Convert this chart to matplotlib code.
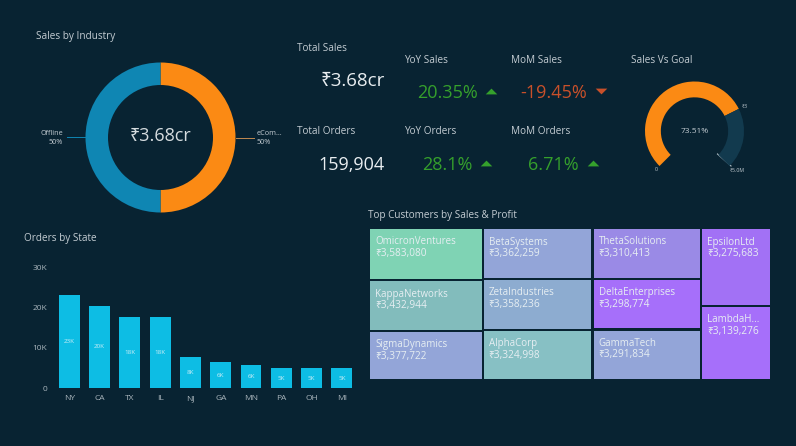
import matplotlib
matplotlib.use("Agg")
import matplotlib.pyplot as plt
from matplotlib.patches import Rectangle

W, H = 796, 446
BG = "#082332"
plt.rcParams["font.family"] = ["Open Sans", "Noto Sans", "DejaVu Sans"]

# Sales by Industry
industries = ["Offline", "eCom..."]
industry_share = [50, 50]
industry_colors = ["#0f86b3", "#fb8a14"]

# Sales vs goal gauge
goal_pct = 73.51

# Orders by state
states = ["NY", "CA", "TX", "IL", "NJ", "GA", "MN", "PA", "OH", "MI"]
orders = [23100, 20500, 17700, 17600, 7700, 6400, 5700, 5000, 5000, 4900]
order_labels = ["23K", "20K", "18K", "18K", "8K", "6K", "6K", "5K", "5K", "5K"]

# Treemap, one list per column
tree_names = [
    ["OmicronVentures", "KappaNetworks", "SigmaDynamics"],
    ["BetaSystems", "ZetaIndustries", "AlphaCorp"],
    ["ThetaSolutions", "DeltaEnterprises", "GammaTech"],
    ["EpsilonLtd", "LambdaH..."],
]
tree_sales = [
    [3583080, 3432944, 3377722],
    [3362259, 3358236, 3324998],
    [3310413, 3298774, 3291834],
    [3275683, 3139276],
]
tree_colors = [
    ["#7fd3b4", "#82bcbc", "#93a5d8"],
    ["#93a5d8", "#8dacd0", "#87c0c4"],
    ["#9a8ae6", "#a66ffa", "#93a5d8"],
    ["#a271f5", "#a66ffa"],
]

UP = [(-1, -0.5), (1, -0.5), (0, 0.5), (-1, -0.5)]
DOWN = [(-1, 0.5), (1, 0.5), (0, -0.5), (-1, 0.5)]
kpis = [
    ("YoY Sales", 404, 59, "20.35%", 417, 92, "#35a02c", UP, 491, 91),
    ("MoM Sales", 511, 59, "-19.45%", 520, 92, "#c8502a", DOWN, 601, 91),
    ("YoY Orders", 404, 130, "28.1%", 422, 163, "#35a02c", UP, 486, 163),
    ("MoM Orders", 511, 130, "6.71%", 528, 163, "#35a02c", UP, 592.5, 163),
]


def px_axes(fig, x0, y0, x1, y1):
    # pixel box with y measured from the top of the image
    return fig.add_axes([x0 / W, 1 - y1 / H, (x1 - x0) / W, (y1 - y0) / H])


fig = plt.figure(figsize=(W / 100, H / 100), dpi=100, facecolor=BG)
bg = fig.add_axes([0, 0, 1, 1])
bg.set_xlim(0, W)
bg.set_ylim(H, 0)
bg.axis("off")


def label(x, y, s, size=7.2, color="#c3ccd2", **kw):
    kw.setdefault("va", "center")
    bg.text(x, y + 1.5, s, fontsize=size, color=color, **kw)


label(36, 35, "Sales by Industry")
label(297, 47, "Total Sales")
label(297, 130, "Total Orders")
label(631, 59, "Sales Vs Goal")
label(24, 237, "Orders by State")
label(368, 214, "Top Customers by Sales & Profit")

# donut
ax = px_axes(fig, 85.5, 62.5, 235.5, 212.5)
ax.pie(industry_share[::-1], colors=industry_colors[::-1], startangle=90, counterclock=False,
       radius=1, wedgeprops=dict(width=0.3), center=(0, 0))
ax.set_xlim(-1, 1)
ax.set_ylim(-1, 1)
ax.text(0, 0.02, "₹3.68cr", color="#d5dcdf", fontsize=13, ha="center", va="center")
bg.plot([67, 85], [137, 137], color=industry_colors[0], lw=0.7)
bg.plot([236, 254], [138, 138], color="#c08a50", lw=0.7)
label(63, 132, industries[0], size=5.2, ha="right")
label(63, 141, "50%", size=5.2, ha="right")
label(257, 132, industries[1], size=5.2)
label(257, 141, "50%", size=5.2)

# KPI numbers
label(321, 80, "₹3.68cr", size=13.5, color="#e8edf0")
label(318, 163, "159,904", size=13, color="#e8edf0")
for title, tx, ty, value, vx, vy, color, marker, mx, my in kpis:
    label(tx, ty, title)
    label(vx, vy, value, size=13, color=color)
    bg.scatter([mx], [my], marker=marker, s=70, color=color, linewidths=0)

# gauge, 270 degree sweep from lower left going clockwise
ax = px_axes(fig, 645, 81.5, 744, 180.5)
sweep = 270
ax.pie([goal_pct, 100 - goal_pct, 100 * (360 - sweep) / sweep],
       colors=["#fb8a14", "#123a4e", "none"], startangle=225, counterclock=False,
       radius=1, wedgeprops=dict(width=0.32))
ax.set_xlim(-1, 1)
ax.set_ylim(-1, 1)
ax.text(0, -0.02, "73.51%", color="#c3ccd2", fontsize=6, ha="center", va="center")
bg.plot([717.5, 731], [154, 166], color="#b9c6cd", lw=0.8)
label(656, 168, "0", size=3.8, ha="center")
label(745, 105.5, "₹3", size=3.8, ha="center")
label(737, 169, "₹5.0M", size=3.8, ha="center")

# bars
ax = px_axes(fig, 54.2, 267.4, 357, 388.2)
ax.set_facecolor("none")
ax.bar(range(len(states)), orders, width=0.69, color="#0dbde4")
for i, (v, t) in enumerate(zip(orders, order_labels)):
    ax.text(i, v / 2, t, color="#c9eef7", fontsize=4.5, ha="center", va="center")
ax.set_xlim(-0.5, len(states) - 0.5)
ax.set_ylim(0, 30000)
ax.set_xticks(range(len(states)), states)
ax.set_yticks([0, 10000, 20000, 30000], ["0", "10K", "20K", "30K"])
ax.tick_params(length=0, labelcolor="#aab6bd", labelsize=6, pad=5)
for s in ax.spines.values():
    s.set_visible(False)

# treemap: column width follows column total, cell height follows its share of the column
x0, y0, tw, th = 369, 228, 402, 152
gap = 1.1
total = sum(sum(c) for c in tree_sales)
x = x0
for names, sales, colors in zip(tree_names, tree_sales, tree_colors):
    cw = tw * sum(sales) / total
    y = y0
    for name, val, col in zip(names, sales, colors):
        ch = th * val / sum(sales)
        bg.add_patch(Rectangle((x + gap, y + gap), cw - 2 * gap, ch - 2 * gap, facecolor=col, edgecolor="none"))
        label(x + 6, y + 12.5, name, size=7, color="#e6eef2")
        label(x + 6, y + 24, f"₹{val:,}", size=7.3, color="#e6eef2")
        y += ch
    x += cw

fig.savefig("out.png", dpi=100, facecolor=BG)
